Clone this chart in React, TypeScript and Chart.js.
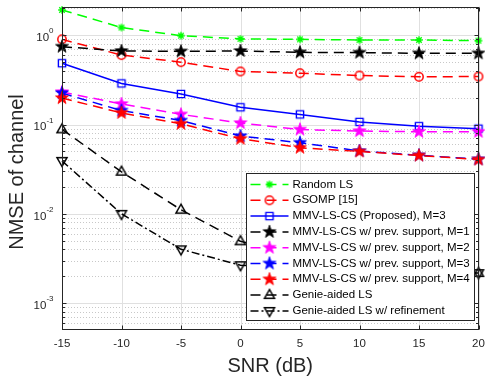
import React, { useEffect, useRef } from 'react';
import { Chart, registerables } from 'chart.js';

Chart.register(...registerables);

// ---------------- data ----------------
const snrDb = [-15, -10, -5, 0, 5, 10, 15, 20];
const randomLS = [1.92, 1.22, 0.99, 0.91, 0.9, 0.885, 0.885, 0.87];
const gsomp = [0.9, 0.6, 0.5, 0.393, 0.376, 0.354, 0.343, 0.345];
const proposedM3 = [0.486, 0.289, 0.22, 0.156, 0.13, 0.107, 0.096, 0.09];
const prevSupportM1 = [0.745, 0.667, 0.66, 0.667, 0.644, 0.639, 0.627, 0.627];
const prevSupportM2 = [0.231, 0.17, 0.13, 0.104, 0.088, 0.0845, 0.083, 0.083];
const prevSupportM3 = [0.225, 0.1435, 0.111, 0.0743, 0.0626, 0.0506, 0.0453, 0.0409];
const prevSupportM4 = [0.198, 0.135, 0.102, 0.0693, 0.055, 0.05, 0.045, 0.0406];
const genieLS = [0.0882, 0.0296, 0.0111, 0.00492, 0.0033, 0.0026, 0.0023, 0.00217];
const genieRefined = [0.0392, 0.01, 0.00401, 0.00266, 0.0024, 0.0023, 0.0022, 0.00217];

const xTickValues = [-15, -10, -5, 0, 5, 10, 15, 20];
const xTickLabels = ['-15', '-10', '-5', '0', '5', '10', '15', '20'];
const yTickExponents = [-3, -2, -1, 0];
const seriesLabels = [
  'Random LS',
  'GSOMP [15]',
  'MMV-LS-CS (Proposed), M=3',
  'MMV-LS-CS w/ prev. support, M=1',
  'MMV-LS-CS w/ prev. support, M=2',
  'MMV-LS-CS w/ prev. support, M=3',
  'MMV-LS-CS w/ prev. support, M=4',
  'Genie-aided LS',
  'Genie-aided LS w/ refinement',
];
const xTitle = 'SNR (dB)';
const yTitle = 'NMSE of channel';

// ---------------- styles ----------------
const FONT = '"Liberation Sans", Arial, Helvetica, sans-serif';
const AX = '#262626';
const DASH = [10, 6];
const DASHDOT = [8, 3, 2, 3];

type MarkerKind = 'asterisk' | 'circle' | 'square' | 'pentagram' | 'triUp' | 'triDown';

const seriesStyles: { color: string; dash: number[]; marker: MarkerKind }[] = [
  { color: '#00ff00', dash: DASH, marker: 'asterisk' },
  { color: '#ff0000', dash: DASH, marker: 'circle' },
  { color: '#0000ff', dash: [], marker: 'square' },
  { color: '#000000', dash: DASH, marker: 'pentagram' },
  { color: '#ff00ff', dash: DASH, marker: 'pentagram' },
  { color: '#0000ff', dash: DASH, marker: 'pentagram' },
  { color: '#ff0000', dash: DASH, marker: 'pentagram' },
  { color: '#000000', dash: DASH, marker: 'triUp' },
  { color: '#000000', dash: DASHDOT, marker: 'triDown' },
];

function makeMarker(kind: MarkerKind, color: string): HTMLCanvasElement {
  const S = 18;
  const c = document.createElement('canvas');
  c.width = S;
  c.height = S;
  const g = c.getContext('2d')!;
  g.translate(S / 2, S / 2);
  g.strokeStyle = color;
  g.fillStyle = color;
  g.lineWidth = 1.4;
  g.beginPath();
  switch (kind) {
    case 'asterisk': {
      const r = 3.8;
      const d = r * 0.72;
      g.moveTo(-r, 0); g.lineTo(r, 0);
      g.moveTo(0, -r); g.lineTo(0, r);
      g.moveTo(-d, -d); g.lineTo(d, d);
      g.moveTo(-d, d); g.lineTo(d, -d);
      g.stroke();
      break;
    }
    case 'circle':
      g.lineWidth = 1.5;
      g.arc(0, 0, 4.2, 0, Math.PI * 2);
      g.stroke();
      break;
    case 'square':
      g.lineWidth = 1.4;
      g.rect(-3.6, -3.6, 7.2, 7.2);
      g.stroke();
      break;
    case 'pentagram': {
      const R = 6.8;
      const r = 2.7;
      for (let i = 0; i < 10; i++) {
        const ang = -Math.PI / 2 + (i * Math.PI) / 5;
        const rr = i % 2 === 0 ? R : r;
        const px = rr * Math.cos(ang);
        const py = rr * Math.sin(ang);
        if (i === 0) g.moveTo(px, py);
        else g.lineTo(px, py);
      }
      g.closePath();
      g.fill();
      g.lineWidth = 0.8;
      g.stroke();
      break;
    }
    case 'triUp':
      g.lineWidth = 1.5;
      g.moveTo(0, -5.6); g.lineTo(5, 3.2); g.lineTo(-5, 3.2);
      g.closePath();
      g.stroke();
      break;
    case 'triDown':
      g.lineWidth = 1.5;
      g.moveTo(0, 5.6); g.lineTo(5, -3.2); g.lineTo(-5, -3.2);
      g.closePath();
      g.stroke();
      break;
  }
  return c;
}

function hline(ctx: CanvasRenderingContext2D, x1: number, x2: number, y: number) {
  ctx.beginPath();
  ctx.moveTo(x1, y);
  ctx.lineTo(x2, y);
  ctx.stroke();
}
function vline(ctx: CanvasRenderingContext2D, x: number, y1: number, y2: number) {
  ctx.beginPath();
  ctx.moveTo(x, y1);
  ctx.lineTo(x, y2);
  ctx.stroke();
}

function makePlugin(markers: HTMLCanvasElement[]) {
  return {
    id: 'matlabLook',
    beforeDatasetsDraw(chart: any) {
      const { ctx, chartArea: a, scales } = chart;
      const xs = scales.x;
      const ys = scales.y;
      ctx.save();
      ctx.lineWidth = 1;
      // minor dotted grid (log y)
      ctx.strokeStyle = '#c8c8c8';
      ctx.setLineDash([1, 2]);
      for (let e = -4; e <= 0; e++) {
        for (let k = 2; k <= 9; k++) {
          const v = k * Math.pow(10, e);
          if (v <= ys.min || v >= ys.max) continue;
          const y = Math.round(ys.getPixelForValue(v)) + 0.5;
          hline(ctx, a.left, a.right, y);
        }
      }
      ctx.setLineDash([]);
      ctx.strokeStyle = '#e0e0e0';
      for (const v of xTickValues) {
        const x = Math.round(xs.getPixelForValue(v)) + 0.5;
        vline(ctx, x, a.top, a.bottom);
      }
      for (const e of yTickExponents) {
        const y = Math.round(ys.getPixelForValue(Math.pow(10, e))) + 0.5;
        hline(ctx, a.left, a.right, y);
      }
      ctx.restore();
    },
    afterDatasetsDraw(chart: any) {
      const { ctx, chartArea: a, scales } = chart;
      const xs = scales.x;
      const ys = scales.y;
      ctx.save();
      const L = Math.round(a.left) + 0.5;
      const R = Math.round(a.right) - 0.5;
      const T = Math.round(a.top) + 0.5;
      const B = Math.round(a.bottom) - 0.5;
      ctx.strokeStyle = AX;
      ctx.lineWidth = 1;
      ctx.setLineDash([]);
      // ticks
      const tl = 4;
      for (const v of xTickValues) {
        const x = Math.round(xs.getPixelForValue(v)) + 0.5;
        vline(ctx, x, B, B - tl);
        vline(ctx, x, T, T + tl);
      }
      for (const e of yTickExponents) {
        const y = Math.round(ys.getPixelForValue(Math.pow(10, e))) + 0.5;
        hline(ctx, L, L + tl, y);
        hline(ctx, R, R - tl, y);
      }
      for (let e = -4; e <= 0; e++) {
        for (let k = 2; k <= 9; k++) {
          const v = k * Math.pow(10, e);
          if (v <= ys.min || v >= ys.max) continue;
          const y = Math.round(ys.getPixelForValue(v)) + 0.5;
          hline(ctx, L, L + 2.5, y);
          hline(ctx, R, R - 2.5, y);
        }
      }
      // box
      ctx.strokeRect(L, T, R - L, B - T);

      // x tick labels
      ctx.fillStyle = AX;
      ctx.font = `11.5px ${FONT}`;
      ctx.textAlign = 'center';
      ctx.textBaseline = 'middle';
      xTickValues.forEach((v, i) => {
        ctx.fillText(xTickLabels[i], xs.getPixelForValue(v), a.bottom + 14);
      });
      // y tick labels 10^e
      for (const e of yTickExponents) {
        const y = ys.getPixelForValue(Math.pow(10, e));
        const expStr = String(e);
        ctx.font = `8px ${FONT}`;
        const ew = ctx.measureText(expStr).width;
        ctx.textAlign = 'right';
        ctx.textBaseline = 'middle';
        const right = a.left - 8.5;
        ctx.fillText(expStr, right, y - 4);
        ctx.font = `11.5px ${FONT}`;
        ctx.fillText('10', right - ew, y + 2.5);
      }
      // axis titles
      ctx.font = `20px ${FONT}`;
      ctx.textAlign = 'center';
      ctx.textBaseline = 'middle';
      ctx.fillText(xTitle, (a.left + a.right) / 2, a.bottom + 36);
      ctx.save();
      ctx.translate(17.5, 172);
      ctx.rotate(-Math.PI / 2);
      ctx.fillText(yTitle, 0, 0);
      ctx.restore();

      // legend
      const lw = 228;
      const lh = 147;
      const lx = Math.round(a.right - 5 - lw) + 0.5;
      const ly = Math.round(a.bottom - 10 - lh) + 0.5;
      ctx.fillStyle = '#ffffff';
      ctx.fillRect(lx, ly, lw, lh);
      ctx.strokeStyle = AX;
      ctx.lineWidth = 1;
      ctx.strokeRect(lx, ly, lw, lh);
      ctx.font = `11.5px ${FONT}`;
      ctx.textAlign = 'left';
      ctx.textBaseline = 'middle';
      seriesLabels.forEach((label, i) => {
        const st = seriesStyles[i];
        const y = ly + 11 + i * 15.8;
        ctx.strokeStyle = st.color;
        ctx.lineWidth = 1.5;
        ctx.setLineDash(st.dash);
        hline(ctx, lx + 4, lx + 42, y);
        ctx.setLineDash([]);
        const m = markers[i];
        ctx.drawImage(m, lx + 23 - m.width / 2, y - m.height / 2);
        ctx.fillStyle = '#000000';
        ctx.fillText(label, lx + 46, y);
      });
      ctx.restore();
    },
  };
}

const seriesValues = [
  randomLS,
  gsomp,
  proposedM3,
  prevSupportM1,
  prevSupportM2,
  prevSupportM3,
  prevSupportM4,
  genieLS,
  genieRefined,
];

export default function App() {
  const ref = useRef<HTMLCanvasElement | null>(null);
  useEffect(() => {
    document.body.style.margin = '0';
    const canvas = ref.current;
    if (!canvas) return;
    const markers = seriesStyles.map((s) => makeMarker(s.marker, s.color));
    const n = seriesValues.length;
    const datasets = seriesValues.map((vals, i) => ({
      label: seriesLabels[i],
      data: vals.map((v, j) => ({ x: snrDb[j], y: v })),
      borderColor: seriesStyles[i].color,
      backgroundColor: seriesStyles[i].color,
      borderWidth: 1.5,
      borderDash: seriesStyles[i].dash,
      pointStyle: markers[i] as any,
      pointRadius: 5,
      pointHoverRadius: 5,
      tension: 0,
      fill: false,
      clip: false as any,
      order: n - i,
    }));
    const chart = new Chart(canvas, {
      type: 'line',
      data: { datasets },
      options: {
        responsive: false,
        animation: false,
        devicePixelRatio: 1,
        events: [],
        layout: { padding: { left: 0, right: 6, top: 5, bottom: 0 } },
        plugins: { legend: { display: false }, tooltip: { enabled: false }, title: { display: false } },
        scales: {
          x: {
            type: 'linear',
            min: -15,
            max: 20,
            ticks: { display: false },
            grid: { display: false },
            border: { display: false },
            afterFit: (s: any) => {
              s.height = 49;
              s.paddingLeft = 0;
              s.paddingRight = 0;
            },
          },
          y: {
            type: 'logarithmic',
            min: 5e-4,
            max: 2.1,
            ticks: { display: false },
            grid: { display: false },
            border: { display: false },
            afterFit: (s: any) => {
              s.width = 62;
              s.paddingTop = 0;
              s.paddingBottom = 0;
            },
          },
        },
      },
      plugins: [makePlugin(markers)],
    });
    return () => chart.destroy();
  }, []);
  return (
    <canvas
      ref={ref}
      width={485}
      height={379}
      style={{ display: 'block', width: 485, height: 379 }}
    />
  );
}
